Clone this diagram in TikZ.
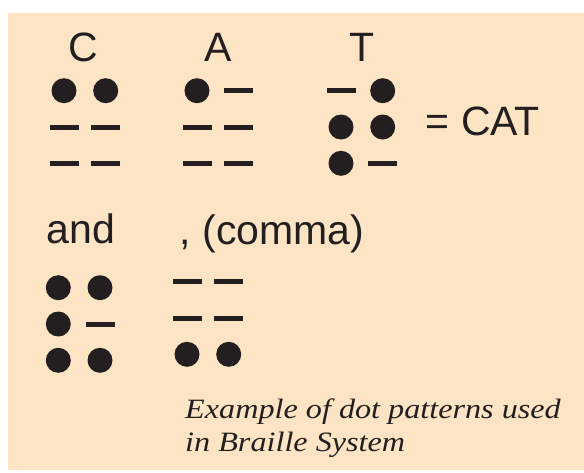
\documentclass[tikz,border=0pt]{standalone}
\usepackage{fontspec}
\usepackage{tikz}
\newfontfamily\labelfont{Liberation Sans}
\newfontfamily\capfont[FakeStretch=1.15]{Liberation Serif}
\definecolor{peach}{RGB}{253,228,196}
\definecolor{ink}{RGB}{35,31,32}
\newcommand{\braillecell}[4]{%
  \foreach \kind [count=\k from 0] in {#4} {
    \pgfmathtruncatemacro{\col}{mod(\k,2)}
    \pgfmathtruncatemacro{\row}{floor(\k/2)}
    \node[\kind] (#1-\k) at ({#2+\col*41.7}, {#3+\row*36.3}) {};
  }}

\begin{document}
\begin{tikzpicture}[x=1pt, y=-1pt,
  bdot/.style={circle, fill=ink, minimum size=25pt, inner sep=0pt},
  bdash/.style={rectangle, fill=ink, minimum width=29pt, minimum height=5pt, inner sep=0pt},
  letter/.style={anchor=base, inner sep=0pt, text=ink, font=\labelfont\fontsize{41}{41}\selectfont},
  caption/.style={anchor=base west, inner sep=0pt, text=ink, font=\capfont\itshape\fontsize{28}{28}\selectfont}]
  \useasboundingbox (0,0) rectangle (584,472);
  \fill[peach] (8,13) rectangle (584,470);
  \node (C) [letter] at (83.3, 61.3) {C};
  \node (A) [letter] at (218.3, 61.3) {A};
  \node (T) [letter] at (361.7, 61.3) {T};
  \node (cat) [letter, anchor=base west] at (425.5, 135) {= CAT};
  \node (and) [letter] at (81.2, 243.3) {and};
  \node (comma) [letter, anchor=base west] at (179.7, 244) {, (comma)};
  \braillecell{c}{64}{90.7}{bdot, bdot, bdash, bdash, bdash, bdash}
  \braillecell{a}{197}{90.7}{bdot, bdash, bdash, bdash, bdash, bdash}
  \braillecell{t}{341}{90.7}{bdash, bdot, bdot, bdot, bdot, bdash}
  \braillecell{n}{58.3}{287.7}{bdot, bdot, bdot, bdash, bdot, bdot}
  \braillecell{m}{187}{281.7}{bdash, bdash, bdash, bdash, bdot, bdot}
  \node (cap1) [caption] at (185, 418) {Example of dot patterns used};
  \node (cap2) [caption] at (185, 451.7) {in Braille System};
\end{tikzpicture}
\end{document}
